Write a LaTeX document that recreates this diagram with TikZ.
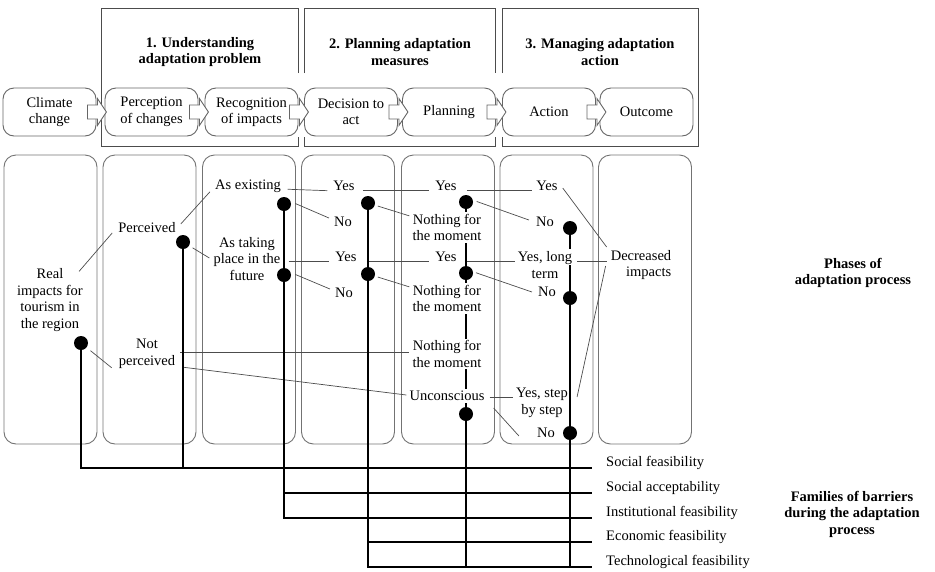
\documentclass[tikz,border=0pt]{standalone}
\usepackage{fontspec}
\setmainfont{Liberation Serif}
\usetikzlibrary{calc}
\pgfdeclarelayer{bg}
\pgfsetlayers{bg,main}
\newcommand\fsz{\fontsize{14.5}{16.5}\selectfont}
\newcommand\blkarrow[1]{\draw[barrow] ([shift={(-9,-7)}]#1.east) -- ++(10,0) -- ++(0,-6.5) -- ++(9,13.5) -- ++(-9,13.5) -- ++(0,-6.5) -- ++(-10,0) -- cycle;}
\begin{document}
\begin{tikzpicture}[x=1pt,y=-1pt,
  hframe/.style={draw=black!70, line width=1pt},
  proc/.style={draw=black!60, line width=0.9pt, rounded corners=11pt, fill=white, minimum width=93pt, minimum height=48pt, align=center, font=\fsz, inner sep=1pt},
  barrow/.style={draw=black!60, line width=0.9pt, fill=white, line join=miter},
  ttl/.style={font=\fsz\bfseries, align=center},
  colbox/.style={draw=black!55, line width=0.9pt, rounded corners=12pt, minimum width=93pt, minimum height=289pt},
  txt/.style={font=\fsz, align=center, inner sep=2pt},
  wtxt/.style={txt, fill=white},
  blackdot/.style={circle, fill=black, inner sep=0pt, minimum size=14pt},
  conn/.style={draw=black!70, line width=0.7pt},
  heavy/.style={draw=black, line width=2.7pt},
  lbl/.style={font=\fsz, anchor=west, inner sep=2pt}
]
\useasboundingbox (0,0) rectangle (935,571);

% header frames
\draw[hframe] (298,73) -- (298,8) -- (101,8) -- (101,146) -- (298,146) -- (298,137);
\draw[hframe] (304,73) -- (304,8) -- (495,8) -- (495,73);
\draw[hframe] (304,137) -- (304,146) -- (495,146) -- (495,137);
\draw[hframe] (502,73) -- (502,8) -- (698,8) -- (698,146) -- (502,146) -- (502,137);
\node[ttl] (t1) at (200,52) {1. Understanding\\adaptation problem};
\node[ttl] (t2) at (400,52) {2. Planning adaptation\\measures};
\node[ttl] (t3) at (600,52) {3. Managing adaptation\\action};

% process boxes
\node[proc] (cc) at (49.5,112) {Climate\\change};
\node[proc] (pc) at (151.5,112) {Perception\\of changes};
\node[proc] (ri) at (251.5,112) {Recognition\\of impacts};
\node[proc] (da) at (351,112) {Decision to\\act};
\node[proc] (pl) at (449,112) {Planning};
\node[proc] (ac) at (549,112) {Action};
\node[proc] (oc) at (646.5,112) {Outcome};
\blkarrow{cc}
\blkarrow{pc}
\blkarrow{ri}
\blkarrow{da}
\blkarrow{pl}
\blkarrow{ac}

% columns
\begin{pgfonlayer}{bg}
\node[colbox] (c1) at (50.5,299.5) {};
\node[colbox] (c2) at (149.5,299.5) {};
\node[colbox] (c3) at (249,299.5) {};
\node[colbox] (c4) at (348,299.5) {};
\node[colbox] (c5) at (448,299.5) {};
\node[colbox] (c6) at (546.5,299.5) {};
\node[colbox] (c7) at (645,299.5) {};
\end{pgfonlayer}

% texts
\node[txt] (real) at (50,300) {Real\\impacts for\\tourism in\\the region};
\node[txt] (perc) at (147,228) {Perceived};
\node[txt] (np) at (147,354) {Not\\perceived};
\node[txt] (ae) at (248,186) {As existing};
\node[txt] (atp) at (247,259) {As taking\\place in the\\future};
\node[txt] (y1) at (344,186) {Yes};
\node[txt] (no1) at (343,222) {No};
\node[txt] (y2) at (346,257) {Yes};
\node[txt] (no2) at (344,293) {No};
\node[txt] (y3) at (446,186) {Yes};
\node[wtxt] (nfm1) at (447,227.5) {Nothing for\\the moment};
\node[txt] (y4) at (446,257) {Yes};
\node[wtxt] (nfm2) at (447,298.5) {Nothing for\\the moment};
\node[wtxt] (nfm3) at (447,354) {Nothing for\\the moment};
\node[wtxt] (unc) at (447,396) {Unconscious};
\node[txt] (y5) at (547,186) {Yes};
\node[txt] (no3) at (545,222) {No};
\node[txt] (yl) at (545,265) {Yes, long\\term};
\node[txt] (no4) at (547,292) {No};
\node[txt] (ys) at (542,403) {Yes, step\\by step};
\node[txt] (no5) at (546,433) {No};
\node[txt, align=right] (dec) at (641,265) {Decreased\\impacts};

% dots
\node[blackdot] (dot1) at (81,343) {};
\node[blackdot] (dot2) at (183,242) {};
\node[blackdot] (dot3) at (284,204) {};
\node[blackdot] (dot4) at (284,275) {};
\node[blackdot] (d4a) at (368,203) {};
\node[blackdot] (d4b) at (368,274) {};
\node[blackdot] (d5a) at (466,202) {};
\node[blackdot] (d5b) at (466,273) {};
\node[blackdot] (d5c) at (466,414) {};
\node[blackdot] (d6a) at (570,228) {};
\node[blackdot] (d6b) at (570,298) {};
\node[blackdot] (d6c) at (570,433) {};

% barrier labels
\node[lbl] (sf) at (604,463) {Social feasibility};
\node[lbl] (sa) at (604,488) {Social acceptability};
\node[lbl] (inf) at (604,513) {Institutional feasibility};
\node[lbl] (ef) at (604,537) {Economic feasibility};
\node[lbl] (tf) at (604,562) {Technological feasibility};
\coordinate (sfe) at ([shift={(-12,1.5)}]sf.base west);
\coordinate (sae) at ([shift={(-12,1.5)}]sa.base west);
\coordinate (infe) at ([shift={(-12,1.5)}]inf.base west);
\coordinate (efe) at ([shift={(-12,1.5)}]ef.base west);
\coordinate (tfe) at ([shift={(-12,1.5)}]tf.base west);

\node[ttl] (phases) at (853,273) {Phases of\\adaptation process};
\node[ttl] (fam) at (852,514) {Families of barriers\\during the adaptation\\process};

\begin{pgfonlayer}{bg}
% thin connectors
\draw[conn] ([shift={(-6,5)}]real.north east) -- ([xshift=-4]perc.base west);
\draw[conn, shorten <=5pt] (dot1) -- ([shift={(-5,-3)}]np.south west);
\draw[conn] ([shift={(3,-4)}]perc.east) -- ([shift={(-3,2.5)}]ae.base west);
\draw[conn, shorten <=4pt] (dot2) -- ([shift={(-2,-1)}]atp.west);
\draw[conn] ([xshift=4.5]ae.base east) -- ([xshift=-4]y1.base west);
\draw[conn] ($(y2.base west -| atp.east)+(6,0)$) -- ([xshift=-4]y2.base west);
\draw[conn] ([xshift=6]y1.base east) -- ([xshift=-4]y3.base west);
\draw[conn] ([xshift=8]y3.base east) -- ([xshift=-2]y5.base west);
\draw[conn] ([xshift=8]y2.base east) -- ([xshift=-4]y4.base west);
\draw[conn] ([xshift=7]y4.base east) -- ($(y4.base east -| yl.west)+(-1,0)$);
\draw[conn] ($(y4.base east -| yl.east)+(3,0)$) -- ($(y4.base east -| dec.west)+(-2,0)$);
\draw[conn] ($(np.east)+(3,-2)$) -- ($(nfm3.west)+(-1,-2)$);
\draw[conn] ([shift={(6,-3.5)}]np.south east) -- ([shift={(-1,-1)}]unc.west);
\draw[conn, shorten <=5pt] (dot3.20) -- ([shift={(-3,-4)}]no1.west);
\draw[conn, shorten <=5pt] (dot4.20) -- ([shift={(-3,-4)}]no2.west);
\draw[conn, shorten <=3pt] (d4a) -- ([shift={(-1,4)}]nfm1.north west);
\draw[conn, shorten <=3pt] (d4b) -- ([shift={(-1,4)}]nfm2.north west);
\draw[conn, shorten <=4pt] (d5a.15) -- ([shift={(-5,-2)}]no3.west);
\draw[conn, shorten <=3pt] (d5b.10) -- ([shift={(-4,0)}]no4.west);
\draw[conn] ([shift={(7,5)}]unc.south east) -- ([shift={(-16,3)}]no5.west);
\draw[conn] ([shift={(3,2)}]y5.east) -- ([shift={(-2,-1)}]dec.north west);
\draw[conn] ([shift={(7,-6)}]ys.east) -- ([shift={(-3,1)}]dec.west);
\draw[conn] ($(unc.east)+(3,1)$) -- ($(unc.east -| ys.west)+(-1,1)$);

% thick lines
\draw[heavy] (dot1.center) |- (sfe);
\draw[heavy] (dot2.center) -- (dot2 |- sfe);
\draw[heavy] (dot3.center) |- (infe);
\draw[heavy] (dot3 |- sae) -- (sae);
\draw[heavy] (d4a.center) |- (tfe);
\draw[heavy] (d4a |- efe) -- (efe);
\draw[heavy] (d5a.center) -- (d5a |- tfe);
\draw[heavy] (d6a.center) -- (d6a |- yl.north);
\draw[heavy] (d6a |- yl.center) -- (d6a |- tfe);
\end{pgfonlayer}
\end{tikzpicture}
\end{document}
